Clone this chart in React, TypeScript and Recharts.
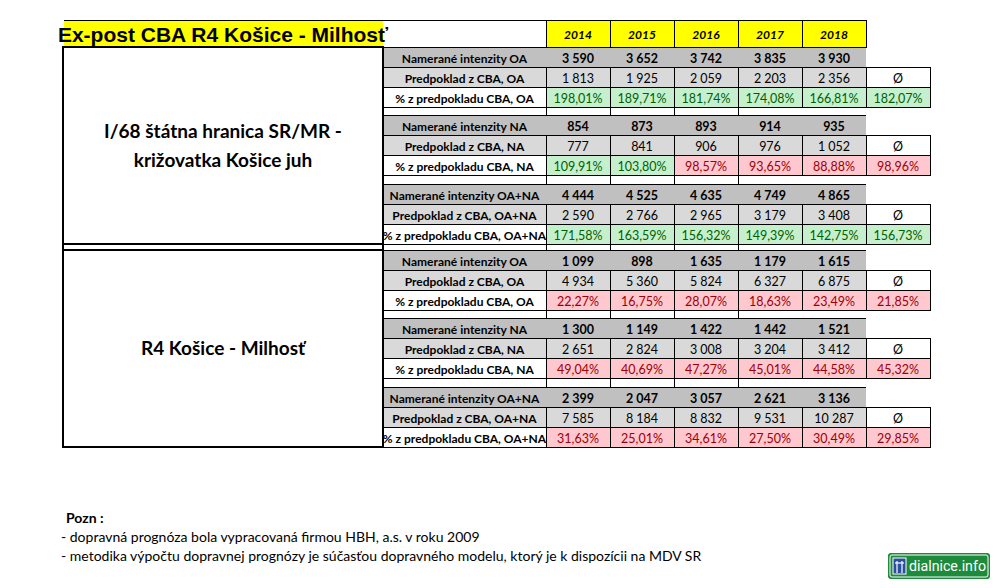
import React from 'react';
import { ComposedChart, Bar, XAxis, YAxis, Customized } from 'recharts';

const title = 'Ex-post CBA R4 Košice - Milhosť';
const years = ['2014', '2015', '2016', '2017', '2018'];
const avgMark = 'Ø';

// I/68 štátna hranica SR/MR - križovatka Košice juh
const s1MeasuredOA = [3590, 3652, 3742, 3835, 3930];
const s1ForecastOA = [1813, 1925, 2059, 2203, 2356];
const s1ShareOA = [198.01, 189.71, 181.74, 174.08, 166.81];
const s1AvgOA = 182.07;
const s1MeasuredNA = [854, 873, 893, 914, 935];
const s1ForecastNA = [777, 841, 906, 976, 1052];
const s1ShareNA = [109.91, 103.8, 98.57, 93.65, 88.88];
const s1AvgNA = 98.96;
const s1MeasuredAll = [4444, 4525, 4635, 4749, 4865];
const s1ForecastAll = [2590, 2766, 2965, 3179, 3408];
const s1ShareAll = [171.58, 163.59, 156.32, 149.39, 142.75];
const s1AvgAll = 156.73;

// R4 Košice - Milhosť
const s2MeasuredOA = [1099, 898, 1635, 1179, 1615];
const s2ForecastOA = [4934, 5360, 5824, 6327, 6875];
const s2ShareOA = [22.27, 16.75, 28.07, 18.63, 23.49];
const s2AvgOA = 21.85;
const s2MeasuredNA = [1300, 1149, 1422, 1442, 1521];
const s2ForecastNA = [2651, 2824, 3008, 3204, 3412];
const s2ShareNA = [49.04, 40.69, 47.27, 45.01, 44.58];
const s2AvgNA = 45.32;
const s2MeasuredAll = [2399, 2047, 3057, 2621, 3136];
const s2ForecastAll = [7585, 8184, 8832, 9531, 10287];
const s2ShareAll = [31.63, 25.01, 34.61, 27.5, 30.49];
const s2AvgAll = 29.85;

const sectionNames = [
  ['I/68 štátna hranica SR/MR -', 'križovatka Košice juh'],
  ['R4 Košice - Milhosť'],
];
const noteLines = [
  'Pozn :',
  '- dopravná prognóza bola vypracovaná firmou HBH, a.s. v roku 2009',
  '- metodika výpočtu dopravnej prognózy je súčasťou dopravného modelu, ktorý je k dispozícii na MDV SR',
];

const sections = [
  [
    { suffix: 'OA', measured: s1MeasuredOA, forecast: s1ForecastOA, share: s1ShareOA, avg: s1AvgOA },
    { suffix: 'NA', measured: s1MeasuredNA, forecast: s1ForecastNA, share: s1ShareNA, avg: s1AvgNA },
    { suffix: 'OA+NA', measured: s1MeasuredAll, forecast: s1ForecastAll, share: s1ShareAll, avg: s1AvgAll },
  ],
  [
    { suffix: 'OA', measured: s2MeasuredOA, forecast: s2ForecastOA, share: s2ShareOA, avg: s2AvgOA },
    { suffix: 'NA', measured: s2MeasuredNA, forecast: s2ForecastNA, share: s2ShareNA, avg: s2AvgNA },
    { suffix: 'OA+NA', measured: s2MeasuredAll, forecast: s2ForecastAll, share: s2ShareAll, avg: s2AvgAll },
  ],
];

// one band per column: the five years plus the average column
const columns = [...years, avgMark].map((col, i) => ({
  col,
  i,
  share: i < years.length ? s1ShareOA[i] : s1AvgOA,
}));

// layout
const FONT = 'Lato, "Open Sans", sans-serif';
const HEAD_TOP = 20;
const HEAD_H = 27;
const ROW_H = 20;
const GAP_H = 8.5;
const BLOCK_TOPS = [47, 250];
const BLOCK_H = 9 * ROW_H + 2 * GAP_H;
const LEFT_X = 63;
const LABEL_X = 383;
const VALUE_X = 546;
const MEASURED_FILL = '#c0c0c0';
const FORECAST_FILL = '#d9d9d9';
const GOOD = { fill: '#c6efce', text: '#006100' };
const BAD = { fill: '#ffc7ce', text: '#9c0006' };

const rowTop = (s: number, g: number, r: number) =>
  BLOCK_TOPS[s] + g * (3 * ROW_H + GAP_H) + r * ROW_H;

const fmtInt = (n: number) => String(n).replace(/\B(?=(\d{3})+(?!\d))/g, ' ');
const fmtPct = (v: number) => v.toFixed(2).replace('.', ',') + '%';

const hLine = (x1: number, x2: number, y: number, key: string) => (
  <line key={key} x1={x1} x2={x2} y1={y} y2={y} stroke="#000" strokeWidth={1} shapeRendering="crispEdges" />
);
const vLine = (x: number, y1: number, y2: number, key: string, w = 1) => (
  <line key={key} x1={x} x2={x} y1={y1} y2={y2} stroke="#000" strokeWidth={w} shapeRendering="crispEdges" />
);

function CellText({ x, y, children, bold, italic, color = '#000', size = 12.5 }: any) {
  return (
    <text
      x={x}
      y={y}
      textAnchor="middle"
      dominantBaseline="central"
      fontFamily={FONT}
      fontSize={size}
      fontWeight={bold ? 700 : 400}
      fontStyle={italic ? 'italic' : 'normal'}
      fill={color}
      style={{ whiteSpace: 'pre' }}
    >
      {children}
    </text>
  );
}

// cells of one column, positioned by the x band scale
function ColumnCells(props: any) {
  const { x, width, payload } = props;
  const i = payload.i;
  const isAvg = i === years.length;
  const cx = x + width / 2;
  const out: React.ReactNode[] = [];

  if (!isAvg) {
    out.push(
      <rect key="hd" x={x} y={HEAD_TOP} width={width} height={HEAD_H} fill="#ffff00" stroke="#000" shapeRendering="crispEdges" />
    );
    out.push(
      <CellText key="hdt" x={cx} y={HEAD_TOP + HEAD_H / 2 + 1} bold italic size={12}>
        {years[i]}
      </CellText>
    );
  }

  sections.forEach((groups, s) => {
    groups.forEach((grp, g) => {
      const y0 = rowTop(s, g, 0);
      const y1 = rowTop(s, g, 1);
      const y2 = rowTop(s, g, 2);
      const k = `${s}-${g}`;
      if (!isAvg) {
        out.push(<rect key={`m${k}`} x={x} y={y0} width={width} height={ROW_H} fill={MEASURED_FILL} />);
        out.push(hLine(x, x + width, y0, `mt${k}`));
        out.push(
          <CellText key={`mv${k}`} x={cx} y={y0 + ROW_H / 2 + 1} bold>
            {fmtInt(grp.measured[i])}
          </CellText>
        );
      }
      out.push(
        <rect key={`f${k}`} x={x} y={y1} width={width} height={ROW_H} fill={isAvg ? '#fff' : FORECAST_FILL} stroke="#000" shapeRendering="crispEdges" />
      );
      out.push(
        <CellText key={`fv${k}`} x={cx} y={y1 + ROW_H / 2 + 1}>
          {isAvg ? avgMark : fmtInt(grp.forecast[i])}
        </CellText>
      );
      const v = isAvg ? grp.avg : grp.share[i];
      const st = v >= 100 ? GOOD : BAD;
      out.push(
        <rect key={`p${k}`} x={x} y={y2} width={width} height={ROW_H} fill={st.fill} stroke="#000" shapeRendering="crispEdges" />
      );
      out.push(
        <CellText key={`pv${k}`} x={cx} y={y2 + ROW_H / 2 + 1} color={st.text}>
          {fmtPct(v)}
        </CellText>
      );
      // spacer row below the group
      const gy = y2 + ROW_H;
      const gEnd = g < 2 ? gy + GAP_H : s === 0 ? BLOCK_TOPS[1] : gy;
      if (i < 3 && gEnd > gy) {
        out.push(vLine(x, gy, gEnd, `gl${k}`));
        out.push(vLine(x + width, gy, gEnd, `gr${k}`));
      }
    });
  });

  return <g>{out}</g>;
}

function Frame() {
  const out: React.ReactNode[] = [];
  out.push(<rect key="ty" x={LEFT_X + 1} y={HEAD_TOP} width={LABEL_X - LEFT_X - 1} height={HEAD_H} fill="#ffff00" />);
  out.push(hLine(LEFT_X + 1, VALUE_X, HEAD_TOP, 'tt'));
  out.push(
    <text key="title" x={(LEFT_X + LABEL_X) / 2} y={42} textAnchor="middle" fontFamily='"Liberation Sans", Arial, sans-serif' fontWeight={700} fontSize={21} fill="#000">
      {title}
    </text>
  );

  sections.forEach((groups, s) => {
    const top = BLOCK_TOPS[s];
    out.push(
      <rect key={`blk${s}`} x={LEFT_X} y={top} width={LABEL_X - LEFT_X} height={BLOCK_H} fill="none" stroke="#000" strokeWidth={1.5} shapeRendering="crispEdges" />
    );
    const names = sectionNames[s];
    const mid = top + BLOCK_H / 2;
    names.forEach((n, j) => {
      out.push(
        <text key={`sn${s}${j}`} x={(LEFT_X + LABEL_X) / 2} y={mid + (j - (names.length - 1) / 2) * 29 - 1} textAnchor="middle" dominantBaseline="central" fontFamily={FONT} fontWeight={700} fontSize={19} fill="#000">
          {n}
        </text>
      );
    });
    groups.forEach((grp, g) => {
      const k = `${s}-${g}`;
      const y0 = rowTop(s, g, 0);
      const y1 = rowTop(s, g, 1);
      const y2 = rowTop(s, g, 2);
      const lx = (LABEL_X + VALUE_X) / 2;
      out.push(<rect key={`lm${k}`} x={LABEL_X} y={y0} width={VALUE_X - LABEL_X} height={ROW_H} fill={MEASURED_FILL} />);
      out.push(hLine(LABEL_X, VALUE_X, y0, `lmt${k}`));
      out.push(
        <CellText key={`lmt${k}x`} x={lx} y={y0 + ROW_H / 2 + 1} bold size={12}>
          {`Namerané intenzity ${grp.suffix}`}
        </CellText>
      );
      out.push(<rect key={`lf${k}`} x={LABEL_X} y={y1} width={VALUE_X - LABEL_X} height={ROW_H} fill={FORECAST_FILL} stroke="#000" shapeRendering="crispEdges" />);
      out.push(
        <CellText key={`lft${k}`} x={lx} y={y1 + ROW_H / 2 + 1} bold size={12}>
          {`Predpoklad z CBA, ${grp.suffix}`}
        </CellText>
      );
      out.push(<rect key={`lp${k}`} x={LABEL_X} y={y2} width={VALUE_X - LABEL_X} height={ROW_H} fill="#fff" stroke="#000" shapeRendering="crispEdges" />);
      out.push(
        <CellText key={`lpt${k}`} x={lx} y={y2 + ROW_H / 2 + 1} bold size={12}>
          {`% z predpokladu CBA, ${grp.suffix}`}
        </CellText>
      );
    });
    out.push(vLine(LABEL_X, top, top + BLOCK_H, `lv${s}`, 1.5));
  });
  out.push(vLine(LEFT_X, BLOCK_TOPS[0] + BLOCK_H, BLOCK_TOPS[1], 'sepL', 1.5));
  out.push(vLine(LABEL_X, BLOCK_TOPS[0] + BLOCK_H, BLOCK_TOPS[1], 'sepR', 1.5));

  // notes
  noteLines.forEach((t, j) => {
    out.push(
      <text key={`n${j}`} x={j === 0 ? 66 : 61} y={523 + j * 19} fontFamily={FONT} fontSize={14} fontWeight={j === 0 ? 700 : 400} fill="#000">
        {t}
      </text>
    );
  });

  // source badge
  out.push(
    <g key="logo">
      <rect x={888} y={553} width={102} height={26} rx={3} fill="#1e8a3c" />
      <rect x={890} y={555} width={98} height={22} rx={2} fill="none" stroke="#fff" strokeWidth={1} />
      <rect x={893} y={558} width={13} height={16} fill="#2b4f9e" stroke="#fff" strokeWidth={1} />
      <line x1={897} x2={897} y1={561} y2={573} stroke="#fff" strokeWidth={1.2} />
      <line x1={902} x2={902} y1={561} y2={573} stroke="#fff" strokeWidth={1.2} />
      <line x1={895} x2={904} y1={563} y2={563} stroke="#fff" strokeWidth={1.2} />
      <text x={909} y={571} fontFamily='Roboto, "Liberation Sans", sans-serif' fontSize={14.5} fill="#fff" textLength={77} lengthAdjust="spacingAndGlyphs">
        dialnice.info
      </text>
    </g>
  );

  return <g>{out}</g>;
}

export default function App() {
  return (
    <div style={{ position: 'absolute', left: 0, top: 0, width: 996, height: 588, background: '#fff' }}>
      <ComposedChart
        width={996}
        height={588}
        data={columns}
        margin={{ top: 0, right: 996 - 930, bottom: 0, left: VALUE_X }}
        barCategoryGap={0}
        barGap={0}
      >
        <XAxis dataKey="col" type="category" hide />
        <YAxis type="number" hide domain={[0, 'dataMax']} />
        <Customized component={<Frame />} />
        <Bar dataKey="share" isAnimationActive={false} shape={(p: any) => <ColumnCells {...p} />} />
      </ComposedChart>
    </div>
  );
}
